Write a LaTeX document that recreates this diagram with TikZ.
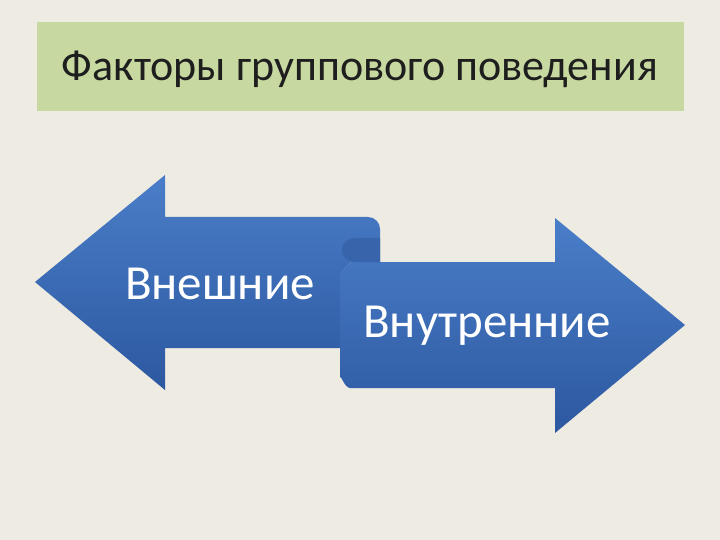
\documentclass[tikz,border=0pt]{standalone}
\usepackage{fontspec}
\setmainfont{Carlito}
\definecolor{bg}{RGB}{238,235,226}
\definecolor{tg}{RGB}{199,217,161}
\definecolor{atop}{RGB}{74,126,200}
\definecolor{abot}{RGB}{44,88,160}
\definecolor{afold}{RGB}{55,100,170}
\definecolor{ttxt}{RGB}{30,30,30}
\begin{document}
\begin{tikzpicture}[x=1pt,y=-1pt,
  lbl/.style={text=white,font=\fontsize{49}{56}\selectfont,inner sep=0pt}]
\useasboundingbox (0,0) rectangle (720,540);
\fill[bg] (0,0) rectangle (720,540);
\node[fill=tg,minimum width=647pt,minimum height=89pt,inner sep=0pt,anchor=north west] (title) at (37,22) {};
\node[font=\fontsize{44}{50}\selectfont,text=ttxt] (tt) at (360,69) {Факторы группового поведения};
% right arrow
\shade[top color=atop,bottom color=abot]
 (340,272) to[out=-90,in=180,looseness=0.6] (352,262) -- (555,262) -- (555,218) -- (685,325) -- (555,433) -- (555,388) -- (350,388)
 to[out=180,in=90] (340,378) -- cycle;
% left arrow with fold
\shade[top color=atop,bottom color=abot]
 (35,282) -- (165,175) -- (165,217) -- (368,217) to[out=0,in=90] (380,229) -- (380,262) -- (352,262)
 to[out=180,in=-90,looseness=0.6] (340,272) -- (340,348) -- (165,348) -- (165,390) -- cycle;
% fold highlight
\fill[afold] (355,262) to[out=180,in=-90] (342,250) to[out=90,in=180] (355,238) -- (380,238) -- (380,262) -- cycle;
\node[lbl] (a) at (220,284) {Внешние};
\node[lbl] (b) at (487,326) {Внутренние};
\end{tikzpicture}
\end{document}
